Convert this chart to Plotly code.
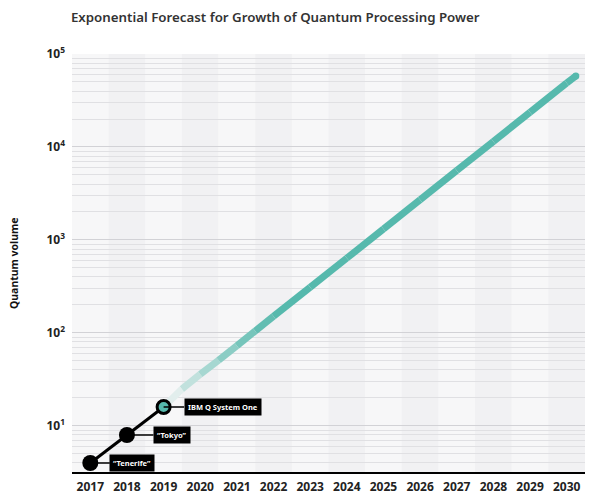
import math
import plotly.graph_objects as go

# --- data ---
hist_years = [2017, 2018, 2019]
hist_qv = [4, 8, 16]
hist_labels = ["“Tenerife”", "“Tokyo”", "IBM Q System One"]

forecast_years = [2019, 2019.5, 2020, 2020.5, 2021, 2021.5, 2022, 2023, 2024,
                  2025, 2026, 2027, 2028, 2029, 2030, 2030.25]
forecast_qv = [16, 25, 36, 51, 73, 105, 151, 310, 638,
               1315, 2710, 5580, 11480, 23660, 48700, 58000]

year_ticks = list(range(2017, 2031))
y_tickvals = [10, 100, 1000, 10000, 100000]
y_ticktext = ["10<sup>1</sup>", "10<sup>2</sup>", "10<sup>3</sup>", "10<sup>4</sup>", "10<sup>5</sup>"]

TEAL = (86, 185, 173)
FONT = "Noto Sans"


def blend(t):
    # mix from near-white to teal
    r = [int(246 + (c - 246) * t) for c in TEAL]
    return "rgb(%d,%d,%d)" % tuple(r)


fig = go.Figure()

# forecast line, fading in from the 2019 point
fade = [0.12, 0.33, 0.5, 0.66, 0.8, 0.92]
for i in range(len(forecast_years) - 1):
    t = fade[i] if i < len(fade) else 1.0
    fig.add_trace(go.Scatter(
        x=forecast_years[i:i + 2], y=forecast_qv[i:i + 2],
        mode="lines", line=dict(color=blend(t), width=7),
        hoverinfo="skip", showlegend=False))

# round cap at the end
fig.add_trace(go.Scatter(
    x=forecast_years[-1:], y=forecast_qv[-1:], mode="markers",
    marker=dict(color=blend(1), size=7, line=dict(width=0)),
    hoverinfo="skip", showlegend=False))

# history
fig.add_trace(go.Scatter(
    x=hist_years, y=hist_qv, mode="lines", line=dict(color="black", width=3),
    hoverinfo="skip", showlegend=False))
fig.add_trace(go.Scatter(
    x=hist_years[:2], y=hist_qv[:2], mode="markers",
    marker=dict(color="black", size=16, opacity=1, line=dict(width=0)),
    showlegend=False))
fig.add_trace(go.Scatter(
    x=hist_years[2:], y=hist_qv[2:], mode="markers",
    marker=dict(color=blend(1), size=13, opacity=1,
                line=dict(color="black", width=3)),
    showlegend=False))

# alternating year bands
for yr in year_ticks:
    fig.add_shape(type="rect", xref="x", yref="paper",
                  x0=yr - 0.5, x1=yr + 0.5, y0=0, y1=1,
                  fillcolor="#f7f7f8" if yr % 2 else "#f1f1f3",
                  line_width=0, layer="below")

# labels
offsets = [42, 45, 59]
for x, y, lab, ax in zip(hist_years, hist_qv, hist_labels, offsets):
    fig.add_annotation(
        x=x, y=math.log10(y), text=lab, showarrow=True,
        ax=ax, ay=0, arrowhead=0, arrowwidth=1.5, arrowcolor="black",
        bgcolor="black", borderpad=3,
        font=dict(family=FONT, size=7.5, color="white", weight="bold"))

# y axis title
fig.add_annotation(
    xref="paper", yref="paper", x=-0.113, y=0.5, text="Quantum volume",
    textangle=-90, showarrow=False, xanchor="center", yanchor="middle",
    font=dict(family=FONT, size=10.5, color="#111", weight="bold"))

fig.update_xaxes(
    range=[2016.5, 2030.5], tickvals=year_ticks, showgrid=False,
    showline=True, linecolor="black", linewidth=2, ticks="",
    ticklabelstandoff=3,
    tickfont=dict(family=FONT, size=12, color="#222", weight="bold"),
    zeroline=False, automargin=False)

fig.update_yaxes(
    type="log", range=[0.505, 5], tickvals=y_tickvals, ticktext=y_ticktext,
    showgrid=True, gridcolor="#d2d2d6", gridwidth=1,
    minor=dict(showgrid=True, gridcolor="#e0e0e3", gridwidth=1, dtick="D1"),
    showline=False, ticks="", zeroline=False, automargin=False,
    ticklabelstandoff=6,
    tickfont=dict(family=FONT, size=12, color="#222", weight="bold"))

# the page adds an 8px body margin, so the figure is 8px smaller
fig.update_layout(
    width=588, height=489,
    margin=dict(l=64, r=11, t=46, b=25),
    plot_bgcolor="#f7f7f8", paper_bgcolor="white",
    title=dict(text="Exponential Forecast for Growth of Quantum Processing Power",
               x=0.107, xanchor="left", y=0.981, yanchor="middle",
               font=dict(family=FONT, size=13.3, color="#333", weight=600)),
    showlegend=False)

fig.write_html("out.html")
